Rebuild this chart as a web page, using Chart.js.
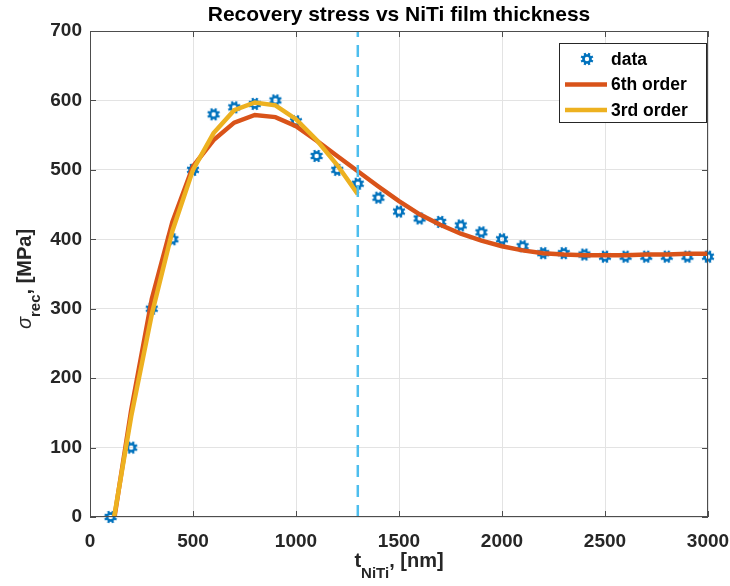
<!DOCTYPE html>
<html>
<head>
<meta charset="utf-8">
<script src="https://cdn.jsdelivr.net/npm/chart.js@4.4.1/dist/chart.umd.min.js"></script>
<style>
  html, body { margin: 0; padding: 0; background: #ffffff; }
  canvas { display: block; }
</style>
</head>
<body>
<canvas id="chart" width="730" height="586"></canvas>
<script>
// Film thickness [nm] and measured recovery stress [MPa]
const thickness = [100, 200, 300, 400, 500, 600, 700, 800, 900, 1000,
                   1100, 1200, 1300, 1400, 1500, 1600, 1700, 1800, 1900, 2000,
                   2100, 2200, 2300, 2400, 2500, 2600, 2700, 2800, 2900, 3000];
const stress = [0, 100, 300, 400, 500, 580, 590, 595, 600, 570,
                520, 500, 480, 460, 440, 430, 425, 420, 410, 400,
                390, 380, 380, 378, 375, 375, 375, 375, 375, 375];

// 6th order polynomial fit, evaluated at every thickness
const fit6 = [-36, 154, 314, 425, 505, 543, 568, 579, 576, 563,
              542, 520, 498, 476, 455, 436, 421, 408, 398, 390,
              384, 380, 378, 377, 377, 377, 378, 378, 379, 379];

// 3rd order polynomial fit, evaluated up to the cutoff thickness
const thickness3 = [100, 200, 300, 400, 500, 600, 700, 800, 900, 1000, 1100, 1200, 1300];
const fit3 = [-30, 145, 292, 412, 500, 553, 586, 597, 593, 573, 543, 507, 465];

// Cutoff thickness marked by the dashed vertical line
const cutoff = 1300;

// Axis ticks
const xTicks = [0, 500, 1000, 1500, 2000, 2500, 3000];
const yTicks = [0, 100, 200, 300, 400, 500, 600, 700];

const FONT = '"Liberation Sans", Arial, Helvetica, sans-serif';
const INK = '#262626';
const BLUE = '#0072BD';
const RED = '#D95319';
const YELLOW = '#EDB120';
const CYAN = '#4DBEEE';

// Ring-shaped marker with small teeth
function makeMarker(color) {
  const c = document.createElement('canvas');
  c.width = 16; c.height = 16;
  const g = c.getContext('2d');
  g.strokeStyle = color;
  g.lineWidth = 2.6;
  g.beginPath();
  g.arc(8, 8, 3.5, 0, Math.PI * 2);
  g.stroke();
  g.lineWidth = 2.3;
  g.lineCap = 'butt';
  g.beginPath();
  for (let k = 0; k < 8; k++) {
    const a = k * Math.PI / 4 + Math.PI / 8;
    g.moveTo(8 + Math.cos(a) * 3.9, 8 + Math.sin(a) * 3.9);
    g.lineTo(8 + Math.cos(a) * 6.4, 8 + Math.sin(a) * 6.4);
  }
  g.stroke();
  return c;
}
const marker = makeMarker(BLUE);

const pairs = (xs, ys) => ys.map((y, i) => ({ x: xs[i], y }));

// Draws a run of text pieces (main text + subscripts) centred on x = 0
function drawRuns(ctx, runs) {
  let total = 0;
  runs.forEach(r => { ctx.font = r.font; r.w = ctx.measureText(r.text).width; total += r.w; });
  let x = -total / 2;
  ctx.textAlign = 'left';
  ctx.textBaseline = 'alphabetic';
  runs.forEach(r => {
    ctx.font = r.font;
    ctx.fillText(r.text, x, r.dy || 0);
    x += r.w;
  });
}

const decorations = {
  id: 'decorations',
  afterDatasetsDraw(chart) {
    const { ctx, chartArea: a, scales: { x, y } } = chart;
    ctx.save();
    ctx.strokeStyle = '#4d4d4d';
    ctx.lineWidth = 1;
    ctx.beginPath();
    const L = 6;
    xTicks.forEach(v => {
      const px = Math.round(x.getPixelForValue(v)) + 0.5;
      ctx.moveTo(px, a.bottom); ctx.lineTo(px, a.bottom - L);
      ctx.moveTo(px, a.top); ctx.lineTo(px, a.top + L);
    });
    yTicks.forEach(v => {
      const py = Math.round(y.getPixelForValue(v)) + 0.5;
      ctx.moveTo(a.left, py); ctx.lineTo(a.left + L, py);
      ctx.moveTo(a.right, py); ctx.lineTo(a.right - L, py);
    });
    ctx.stroke();
    ctx.strokeRect(a.left + 0.5, a.top + 0.5, a.right - a.left - 1, a.bottom - a.top - 1);
    ctx.restore();
  },
  afterDraw(chart) {
    const { ctx, chartArea: a } = chart;
    const cx = (a.left + a.right) / 2;
    const cy = (a.top + a.bottom) / 2;
    ctx.save();
    ctx.fillStyle = '#000000';

    // Title
    ctx.font = 'bold 21px ' + FONT;
    ctx.textAlign = 'center';
    ctx.textBaseline = 'alphabetic';
    ctx.fillText('Recovery stress vs NiTi film thickness', cx, 21);

    // x-axis label
    ctx.fillStyle = INK;
    ctx.save();
    ctx.translate(cx, 567);
    drawRuns(ctx, [
      { text: 't', font: 'bold 20px ' + FONT },
      { text: 'NiTi', font: 'bold 15px ' + FONT, dy: 11 },
      { text: ', [nm]', font: 'bold 20px ' + FONT }
    ]);
    ctx.restore();

    // y-axis label
    ctx.save();
    ctx.translate(31, cy + 5);
    ctx.rotate(-Math.PI / 2);
    drawRuns(ctx, [
      { text: 'σ', font: 'italic 20px ' + FONT },
      { text: 'rec', font: 'bold 15px ' + FONT, dy: 9 },
      { text: ', [MPa]', font: 'bold 20px ' + FONT }
    ]);
    ctx.restore();

    // Legend
    const bx = 559.5, by = 43.5, bw = 147, bh = 79;
    ctx.fillStyle = '#ffffff';
    ctx.fillRect(bx, by, bw, bh);
    ctx.strokeStyle = '#262626';
    ctx.lineWidth = 1;
    ctx.strokeRect(bx, by, bw, bh);
    const rows = [59, 84.5, 110];
    const items = chart.data.datasets.filter(d => d.label);
    ctx.font = 'bold 17.5px ' + FONT;
    ctx.textAlign = 'left';
    ctx.textBaseline = 'middle';
    items.forEach((d, i) => {
      const ry = rows[i];
      if (d.showLine === false) {
        ctx.drawImage(marker, 587 - marker.width / 2, ry - marker.height / 2);
      } else {
        ctx.strokeStyle = d.borderColor;
        ctx.lineWidth = d.borderWidth;
        ctx.beginPath();
        ctx.moveTo(565, ry); ctx.lineTo(607, ry);
        ctx.stroke();
      }
      ctx.fillStyle = '#000000';
      ctx.fillText(d.label, 611, ry + 1);
    });
    ctx.restore();
  }
};

new Chart(document.getElementById('chart'), {
  type: 'line',
  data: {
    datasets: [
      {
        label: 'data',
        data: pairs(thickness, stress),
        showLine: false,
        pointStyle: marker,
        pointRadius: 6,
        clip: false,
        order: 4
      },
      {
        label: '6th order',
        data: pairs(thickness, fit6),
        borderColor: RED,
        borderWidth: 4.5,
        pointRadius: 0,
        tension: 0,
        clip: 0,
        order: 3
      },
      {
        label: '3rd order',
        data: pairs(thickness3, fit3),
        borderColor: YELLOW,
        borderWidth: 4.5,
        pointRadius: 0,
        tension: 0,
        clip: 0,
        order: 2
      },
      {
        data: [{ x: cutoff, y: 0 }, { x: cutoff, y: 700 }],
        borderColor: CYAN,
        borderWidth: 2.5,
        borderDash: [12, 8],
        pointRadius: 0,
        clip: 0,
        order: 1
      }
    ]
  },
  options: {
    responsive: false,
    animation: false,
    events: [],
    layout: { padding: { top: 31, right: 22, left: 0, bottom: 0 } },
    plugins: { legend: { display: false }, tooltip: { enabled: false }, title: { display: false } },
    scales: {
      x: {
        type: 'linear',
        min: 0, max: 3000,
        afterBuildTicks: s => { s.ticks = xTicks.map(v => ({ value: v })); },
        afterFit: s => { s.height = 69; s.paddingLeft = 0; s.paddingRight = 0; },
        grid: { color: '#e3e3e3', lineWidth: 1, drawTicks: false },
        border: { display: false },
        ticks: { color: INK, font: { family: FONT, size: 19, weight: 'bold' }, padding: 13, maxRotation: 0,
                 callback: v => String(v) }
      },
      y: {
        type: 'linear',
        min: 0, max: 700,
        afterBuildTicks: s => { s.ticks = yTicks.map(v => ({ value: v })); },
        afterFit: s => { s.width = 90; s.paddingTop = 0; s.paddingBottom = 0; },
        grid: { color: '#e3e3e3', lineWidth: 1, drawTicks: false },
        border: { display: false },
        ticks: { color: INK, font: { family: FONT, size: 19, weight: 'bold' }, padding: 8,
                 callback: v => String(v) }
      }
    }
  },
  plugins: [decorations]
});
</script>
</body>
</html>
